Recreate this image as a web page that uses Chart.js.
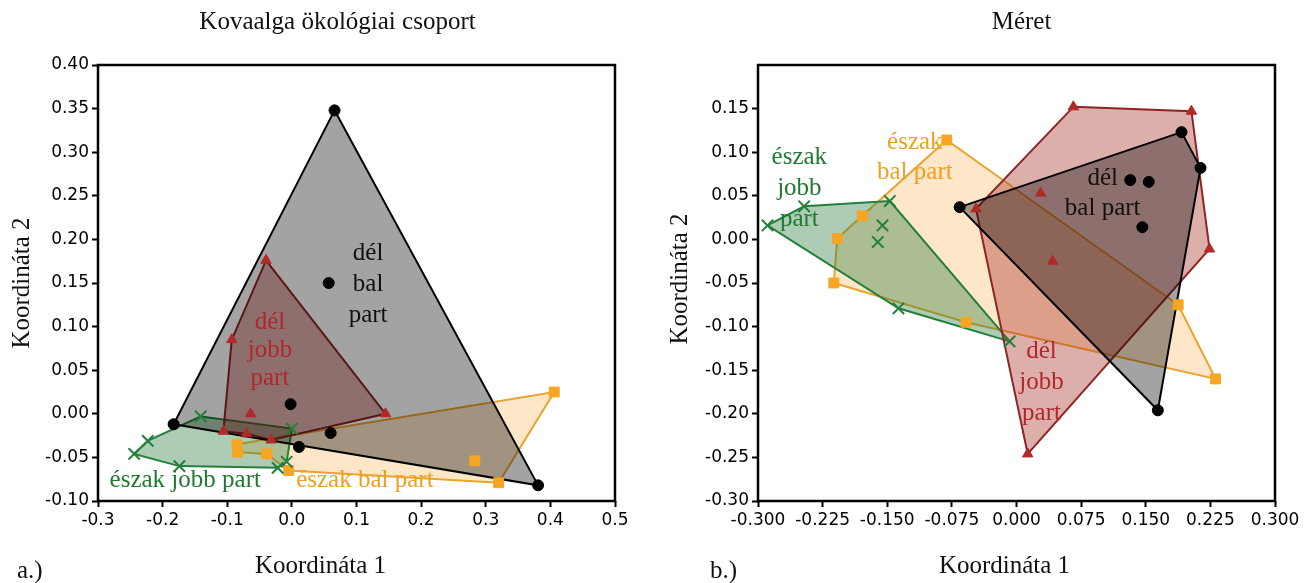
<!DOCTYPE html>
<html>
<head>
<meta charset="utf-8">
<script src="https://cdn.jsdelivr.net/npm/chart.js@4.4.1/dist/chart.umd.min.js"></script>
<style>
  html, body { margin: 0; padding: 0; background: #fff; }
  #wrap { position: relative; width: 1314px; height: 583px; }
  #wrap canvas { position: absolute; top: 0; }
</style>
</head>
<body>
<div id="wrap">
  <canvas id="panelA" width="657" height="583" style="left:0"></canvas>
  <canvas id="panelB" width="657" height="583" style="left:657px"></canvas>
</div>
<script>
// ---------- data: ordination scores [Koordináta 1, Koordináta 2] ----------

// a.) Kovaalga ökológiai csoport
const aDelBal      = [[0.066, 0.348], [-0.183, -0.012], [0.381, -0.082], [-0.002, 0.011], [0.060, -0.022], [0.011, -0.038], [0.057, 0.150]];
const aDelBalHull  = [0, 2, 1];
const aDelJobb     = [[-0.040, 0.176], [-0.093, 0.085], [-0.064, 0.000], [-0.106, -0.020], [-0.070, -0.023], [-0.032, -0.030], [0.145, 0.000]];
const aDelJobbHull = [0, 6, 5, 4, 3, 1];
const aEszJobb     = [[-0.141, -0.003], [0.000, -0.017], [-0.223, -0.031], [-0.244, -0.046], [-0.174, -0.060], [-0.022, -0.062], [-0.008, -0.055]];
const aEszJobbHull = [0, 1, 6, 5, 4, 3, 2];
const aEszBal      = [[-0.085, -0.035], [-0.084, -0.044], [-0.039, -0.046], [-0.005, -0.065], [0.406, 0.025], [0.283, -0.054], [0.320, -0.079]];
const aEszBalHull  = [0, 4, 6, 3, 2, 1];

// b.) Méret
const bDelBal      = [[-0.066, 0.037], [0.1915, 0.123], [0.2136, 0.082], [0.132, 0.068], [0.1535, 0.066], [0.146, 0.014], [0.164, -0.196]];
const bDelBalHull  = [0, 1, 2, 6];
const bDelJobb     = [[0.066, 0.152], [0.203, 0.147], [0.224, -0.011], [-0.047, 0.035], [0.028, 0.053], [0.042, -0.025], [0.013, -0.246]];
const bDelJobbHull = [0, 1, 2, 6, 3];
const bEszJobb     = [[-0.289, 0.016], [-0.2465, 0.038], [-0.147, 0.044], [-0.1555, 0.016], [-0.161, -0.003], [-0.137, -0.079], [-0.008, -0.117]];
const bEszJobbHull = [0, 1, 2, 6, 5];
const bEszBal      = [[-0.081, 0.114], [-0.179, 0.027], [-0.208, 0.001], [-0.212, -0.050], [-0.0585, -0.095], [0.1876, -0.075], [0.231, -0.160]];
const bEszBalHull  = [0, 5, 6, 4, 3, 2, 1];

// tick labels (an empty label also drops its tick mark)
const aXTickLabels = ['-0.3', '-0.2', '-0.1', '0.0', '0.1', '0.2', '0.3', '0.4', '0.5'];
const aYTickLabels = ['-0.10', '-0.05', '0.00', '0.05', '0.10', '0.15', '0.20', '0.25', '0.30', '0.35', '0.40'];
const bXTickLabels = ['-0.300', '-0.225', '-0.150', '-0.075', '0.000', '0.075', '0.150', '0.225', '0.300'];
const bYTickLabels = ['-0.30', '-0.25', '-0.20', '-0.15', '-0.10', '-0.05', '0.00', '0.05', '0.10', '0.15', ''];

// ---------- styles ----------
const SERIF = '"Liberation Serif", "Times New Roman", serif';
const SANS = '"DejaVu Sans", "Liberation Sans", sans-serif';

const styleDelBal   = { marker: 'circle',   radius: 5.5, bw: 1, color: '#000000', line: '#000000', fill: 'rgba(0,0,0,0.36)',      text: '#111111' };
const styleDelJobb  = { marker: 'triangle', radius: 6,   bw: 1, color: '#b02a2a', line: '#8e2424', fill: 'rgba(165,45,35,0.38)',  text: '#b2262c' };
const styleEszJobb  = { marker: 'crossRot', radius: 8,   bw: 2, color: '#23803a', line: '#23803a', fill: 'rgba(40,120,60,0.38)',  text: '#1f7a30' };
const styleEszBal   = { marker: 'rect',     radius: 7,   bw: 1, color: '#f6a623', line: '#eaa32c', fill: 'rgba(250,165,60,0.28)', text: '#f0a020' };

// group labels, anchored in data coordinates
const aLabels = [
  { lines: ['dél', 'bal', 'part'],   x: 0.118,  y: 0.184,  lead: 31, style: styleDelBal },
  { lines: ['dél', 'jobb', 'part'],  x: -0.034, y: 0.105,  lead: 28, style: styleDelJobb },
  { lines: ['észak jobb part'],      x: -0.165, y: -0.076, lead: 0,  style: styleEszJobb },
  { lines: ['észak bal part'],       x: 0.113,  y: -0.076, lead: 0,  style: styleEszBal }
];
const bLabels = [
  { lines: ['észak', 'jobb', 'part'], x: -0.252, y: 0.0945, lead: 31, style: styleEszJobb },
  { lines: ['észak', 'bal part'],     x: -0.118, y: 0.1117, lead: 30, style: styleEszBal },
  { lines: ['dél', 'bal part'],       x: 0.100,  y: 0.070,  lead: 30, style: styleDelBal },
  { lines: ['dél', 'jobb', 'part'],   x: 0.029,  y: -0.129, lead: 31, style: styleDelJobb }
];

// ---------- helpers ----------
function buildDatasets(groups) {
  const points = [], hulls = [];
  groups.forEach(({ pts, hull, style }) => {
    points.push({
      type: 'scatter',
      data: pts.map(([x, y]) => ({ x, y })),
      pointStyle: style.marker,
      pointRadius: style.radius,
      pointBackgroundColor: style.color,
      pointBorderColor: style.color,
      pointBorderWidth: style.bw,
      showLine: false
    });
    hulls.push({
      type: 'line',
      data: hull.concat(hull[0]).map(i => ({ x: pts[i][0], y: pts[i][1] })),
      borderColor: style.line,
      borderWidth: 2,
      backgroundColor: style.fill,
      fill: 'shape',
      pointRadius: 0,
      tension: 0
    });
  });
  return points.concat(hulls);
}

// frame, titles and group labels
const panelText = {
  id: 'panelText',
  afterDraw(chart, args, o) {
    const { ctx, chartArea: a, scales: { x, y } } = chart;
    const cx = (a.left + a.right) / 2, cy = (a.top + a.bottom) / 2;
    ctx.save();
    ctx.lineWidth = 2.5;
    ctx.strokeStyle = '#000';
    ctx.strokeRect(a.left, a.top, a.right - a.left, a.bottom - a.top);

    ctx.textAlign = 'center';
    ctx.textBaseline = 'middle';
    ctx.font = '25px ' + SERIF;
    o.labels.forEach(l => {
      ctx.fillStyle = l.style.text;
      const px = x.getPixelForValue(l.x), py = y.getPixelForValue(l.y);
      l.lines.forEach((t, i) => ctx.fillText(t, px, py + i * l.lead));
    });

    ctx.fillStyle = '#111';
    ctx.fillText(o.title, cx + o.titleShift, 22);
    ctx.fillText(o.xTitle, cx + o.xTitleShift, 566);
    ctx.textAlign = 'left';
    ctx.fillText(o.tag, o.tagX, 571);
    ctx.save();
    ctx.translate(o.yTitleX, cy + o.yTitleShift);
    ctx.rotate(-Math.PI / 2);
    ctx.textAlign = 'center';
    ctx.fillText(o.yTitle, 0, 0);
    ctx.restore();
    ctx.restore();
  }
};

function axis(min, max, step, labels, fit) {
  return {
    type: 'linear', min, max,
    ticks: {
      stepSize: step, autoSkip: false, maxRotation: 0, padding: 3,
      color: '#000', font: { family: SANS, size: 17 },
      callback: (v, i) => labels[i] !== undefined ? labels[i] : ''
    },
    grid: {
      drawOnChartArea: false, drawTicks: true, tickLength: 6, tickWidth: 2,
      tickColor: c => (labels[c.index] === '' ? 'rgba(0,0,0,0)' : '#000')
    },
    border: { display: false },
    afterFit: fit
  };
}

function makePanel(id, cfg) {
  return new Chart(document.getElementById(id), {
    type: 'scatter',
    data: { datasets: buildDatasets(cfg.groups) },
    options: {
      responsive: false, animation: false, devicePixelRatio: 1,
      layout: { padding: { left: 0, right: cfg.padRight, top: 65, bottom: 0 } },
      plugins: { legend: { display: false }, tooltip: { enabled: false }, panelText: cfg.text },
      scales: {
        x: axis(cfg.x[0], cfg.x[1], cfg.x[2], cfg.xLabels, s => { s.height = 82; }),
        y: axis(cfg.y[0], cfg.y[1], cfg.y[2], cfg.yLabels, s => { s.width = cfg.yWidth; })
      }
    },
    plugins: [panelText]
  });
}

makePanel('panelA', {
  groups: [
    { pts: aDelBal,  hull: aDelBalHull,  style: styleDelBal },
    { pts: aDelJobb, hull: aDelJobbHull, style: styleDelJobb },
    { pts: aEszJobb, hull: aEszJobbHull, style: styleEszJobb },
    { pts: aEszBal,  hull: aEszBalHull,  style: styleEszBal }
  ],
  x: [-0.3, 0.5, 0.1], y: [-0.1, 0.4, 0.05],
  xLabels: aXTickLabels, yLabels: aYTickLabels,
  yWidth: 98, padRight: 42,
  text: {
    labels: aLabels,
    title: 'Kovaalga ökológiai csoport', titleShift: -19,
    xTitle: 'Koordináta 1', xTitleShift: -36,
    yTitle: 'Koordináta 2', yTitleX: 22, yTitleShift: 0,
    tag: 'a.)', tagX: 17
  }
});

makePanel('panelB', {
  groups: [
    { pts: bDelBal,  hull: bDelBalHull,  style: styleDelBal },
    { pts: bDelJobb, hull: bDelJobbHull, style: styleDelJobb },
    { pts: bEszJobb, hull: bEszJobbHull, style: styleEszJobb },
    { pts: bEszBal,  hull: bEszBalHull,  style: styleEszBal }
  ],
  x: [-0.3, 0.3, 0.075], y: [-0.3, 0.2, 0.05],
  xLabels: bXTickLabels, yLabels: bYTickLabels,
  yWidth: 101, padRight: 39,
  text: {
    labels: bLabels,
    title: 'Méret', titleShift: 5,
    xTitle: 'Koordináta 1', xTitleShift: -12,
    yTitle: 'Koordináta 2', yTitleX: 23, yTitleShift: -4,
    tag: 'b.)', tagX: 53
  }
});
</script>
</body>
</html>
